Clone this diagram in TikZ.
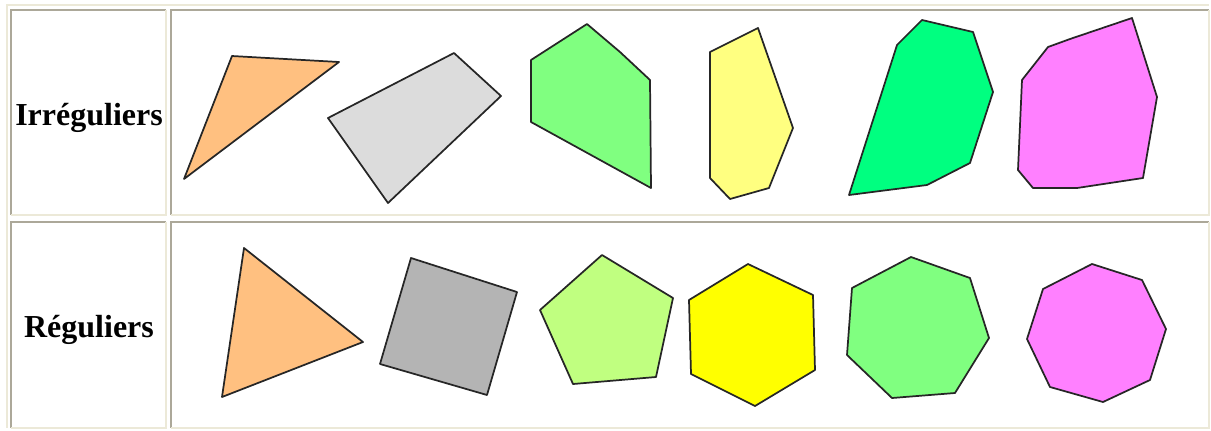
\documentclass[tikz,border=0pt]{standalone}
\usepackage{fontspec}
\setmainfont{Liberation Serif}
\definecolor{cellgray}{HTML}{ACA899}
\definecolor{cellbeige}{HTML}{ECE9D8}
\definecolor{pcorange}{HTML}{FFC080}
\definecolor{pclight}{HTML}{DCDCDC}
\definecolor{pcgreen}{HTML}{80FF80}
\definecolor{pcpale}{HTML}{FFFF80}
\definecolor{pcspring}{HTML}{00FF80}
\definecolor{pcpink}{HTML}{FF80FF}
\definecolor{pcgray}{HTML}{B4B4B4}
\definecolor{pclime}{HTML}{C0FF80}
\definecolor{pcyellow}{HTML}{FFFF00}
\begin{document}
\begin{tikzpicture}[x=0.75pt, y=-0.75pt,
  poly/.style={draw=black!85, line width=1.3pt, line join=round},
  dark/.style={draw=cellgray, line width=1.3pt},
  light/.style={draw=cellbeige, line width=1.5pt},
  lbl/.style={font=\fontsize{24}{28}\selectfont\bfseries, anchor=base}]
\useasboundingbox (0,0) rectangle (1211,430);
% table frame and cells
\draw[light] (7,428) -- (7,5) -- (1209,5);
\foreach \xa/\ya/\xb/\yb in {11/10/166/215, 171/10/1209/215, 11/222/166/428, 171/222/1209/428} {
  \draw[dark] (\xa,\yb) -- (\xa,\ya) -- (\xb,\ya);
  \draw[light] (\xb,\ya) -- (\xb,\yb) -- (\xa,\yb);
}
% row labels
\node[lbl] (irr) at (89,125) {Irréguliers};
\node[lbl] (reg) at (89,337) {Réguliers};
% irregular polygons
\filldraw[poly, fill=pcorange] (232,56) -- (339,62) -- (184,179) -- cycle;
\filldraw[poly, fill=pclight] (328,118) -- (454,53) -- (501,96) -- (388,203) -- cycle;
\filldraw[poly, fill=pcgreen] (531,60) -- (587,24) -- (620,52) -- (650,80) -- (651,188) -- (531,122) -- cycle;
\filldraw[poly, fill=pcpale] (710,52) -- (758,28) -- (793,128) -- (769,188) -- (730,199) -- (710,178) -- cycle;
\filldraw[poly, fill=pcspring] (849,195) -- (897,45) -- (922,20) -- (973,32) -- (993,92)
  -- (970,163) -- (927,185) -- cycle;
\filldraw[poly, fill=pcpink] (1132,18) -- (1157,97) -- (1143,178) -- (1077,188) -- (1033,188)
  -- (1018,170) -- (1022,80) -- (1048,47) -- (1070,39) -- cycle;
% regular polygons
\filldraw[poly, fill=pcorange] (244,248) -- (363,342) -- (222,397) -- cycle;
\filldraw[poly, fill=pcgray] (411,258) -- (517,292) -- (487,395) -- (380,364) -- cycle;
\filldraw[poly, fill=pclime] (602,255) -- (673,298) -- (656,377) -- (573,384) -- (540,310) -- cycle;
\filldraw[poly, fill=pcyellow] (748,264) -- (813,295) -- (815,370) -- (755,406) -- (691,374) -- (689,300) -- cycle;
\filldraw[poly, fill=pcgreen] (911,257) -- (970,278) -- (989,338) -- (955,393) -- (892,398)
  -- (847,355) -- (852,288) -- cycle;
\filldraw[poly, fill=pcpink] (1092,264) -- (1142,280) -- (1166,329) -- (1150,380) -- (1103,402)
  -- (1050,387) -- (1027,339) -- (1043,289) -- cycle;
\end{tikzpicture}
\end{document}
